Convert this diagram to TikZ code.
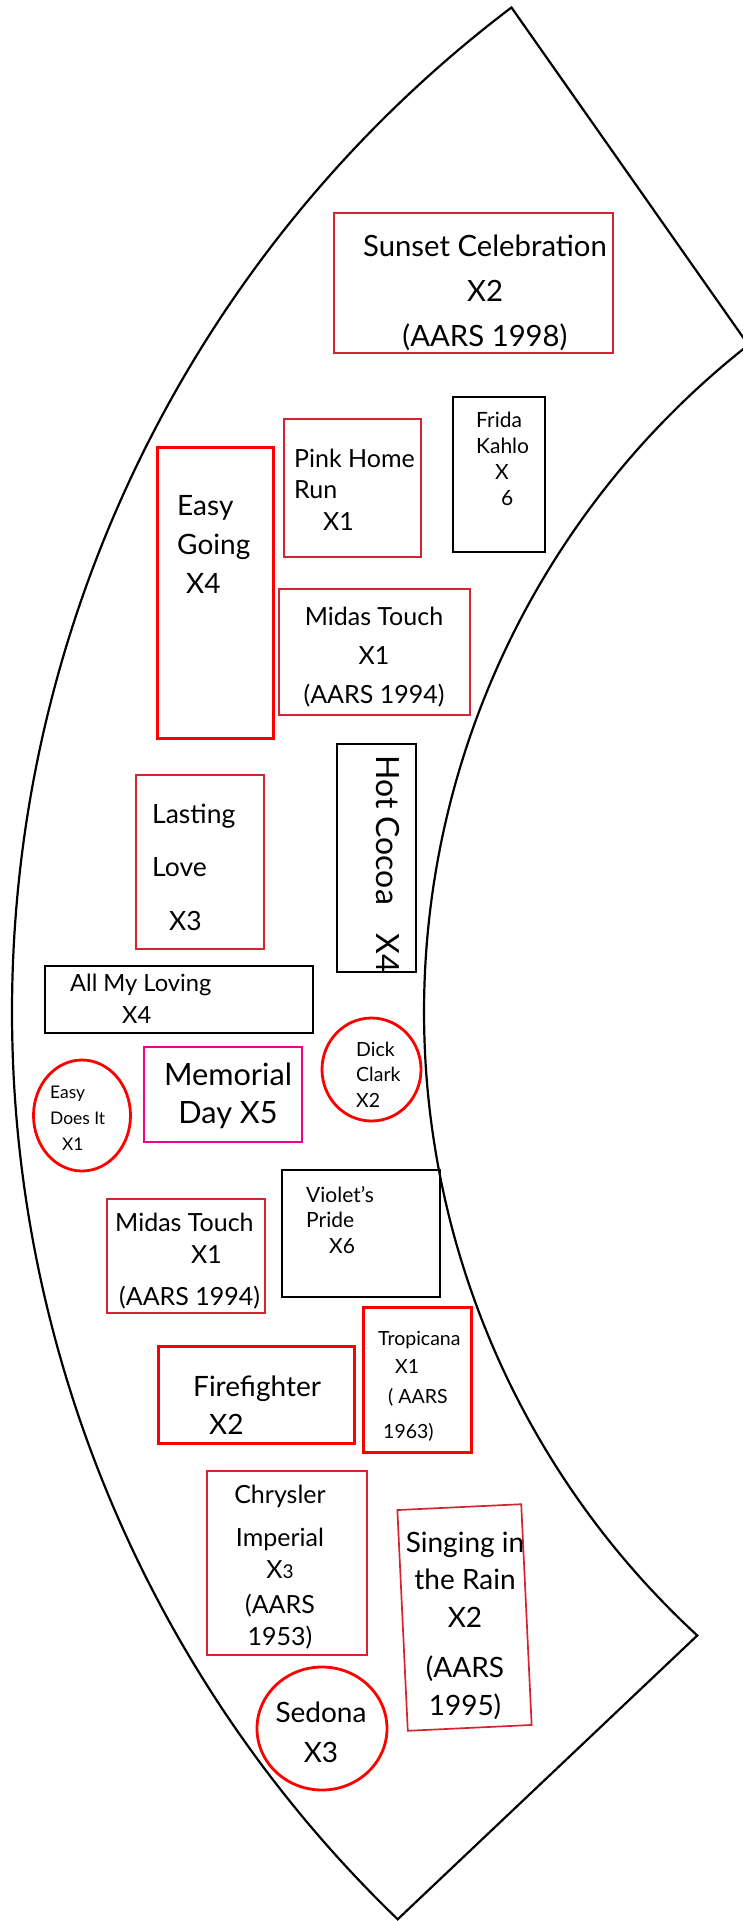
\documentclass[tikz,border=0pt]{standalone}
\usepackage{fontspec}
\setmainfont{Lato}
\usepackage{tikz}
\usetikzlibrary{calc,shapes.geometric}
\definecolor{bedred}{RGB}{212,36,48}
\newcommand\fs[2]{\fontsize{#1}{#2}\selectfont}
\tikzset{
	bed/.style={draw=bedred, inner sep=0pt, line width=1.7pt},
	bedbold/.style={draw=red, inner sep=0pt, line width=3pt},
	bedblack/.style={draw=black, inner sep=0pt, line width=2.3pt},
	bedpink/.style={draw=magenta, inner sep=0pt, line width=2.7pt},
	roundbed/.style={ellipse, draw=red, inner sep=0pt, line width=2.8pt},
	tag/.style={inner sep=0pt, align=left, anchor=base west},
	tagc/.style={inner sep=0pt, align=center, anchor=base},
}
\begin{document}
\begin{tikzpicture}[x=1pt,y=-1pt]
		\useasboundingbox (0,0) rectangle (743,1921);
		\clip (0,0) rectangle (743,1921);
		\coordinate (c) at (1272,1012);
		
		% wedge of the ring
		\draw[line width=2.2pt] ($(c)+(232.87:1260)$) arc[start angle=232.87, end angle=133.94, radius=1260]
			-- ($(c)+(132.67:848)$) arc[start angle=132.67, end angle=231.87, radius=848] -- cycle;
		
		\foreach \n/\x/\y/\w/\h in {sunset/473.5/283/279/140, pink/352.5/488/137/138, midasa/374.5/652/191/126,
			lasting/200/862/128/174, midasb/186/1256/158/114, chrysler/287/1563/160/184}{
			\node[bed, minimum width=\w pt, minimum height=\h pt] (\n) at (\x,\y) {};
		}
		\foreach \n/\x/\y/\w/\h in {easygoing/215/592.5/116/291, tropicana/417/1379.5/108/145, fire/256/1394.5/196/97}{
			\node[bedbold, minimum width=\w pt, minimum height=\h pt] (\n) at (\x,\y) {};
		}
		\foreach \n/\x/\y/\w/\h in {frida/499/474.5/92/155, cocoa/376.5/858/79/228, allmy/179/999.5/268/67,
			violet/361/1233.5/158/127}{
			\node[bedblack, minimum width=\w pt, minimum height=\h pt] (\n) at (\x,\y) {};
		}
		\foreach \n/\x/\y/\w/\h in {easydoes/82/1115.5/97/111, dick/371.5/1069.5/99/103, sedona/322/1728.5/130/123}{
			\node[roundbed, minimum width=\w pt, minimum height=\h pt] (\n) at (\x,\y) {};
		}
		\node[bedpink, minimum width=158pt, minimum height=95pt] (memorial) at (223,1094.5) {};
		\node[bed, rotate=2.7, minimum width=124pt, minimum height=221pt] (singing) at (464.5,1617.5) {};
		
		% names (placed on the baseline of the last line)
		\node[tagc, font=\fs{29.3}{45}] (sunset-t) at (485,346) {Sunset Celebration\\X2\\(AARS 1998)};
		\node[tag, font=\fs{25}{31.5}] (pink-t) at (294,530) {Pink Home\\Run\\\hspace*{29pt}X1};
		\node[tag, font=\fs{28}{39}] (easygoing-t) at (177,593) {Easy\\Going\\\hspace*{9pt}X4};
		\node[tagc, font=\fs{25}{39}] (midasa-t) at (374,703) {Midas Touch\\X1\\(AARS 1994)};
		\node[tag, font=\fs{21}{25.7}] (frida-t) at (476,505) {Frida\\Kahlo\\\hspace*{19pt}X\\\hspace*{25pt}6};
		\node[inner sep=0pt, rotate=-90, anchor=base west, font=\fs{32}{32}] (cocoa-t) at (376,755) {Hot Cocoa\hspace{29pt}X4};
		\node[tag, font=\fs{26.5}{53.5}] (lasting-t) at (152,930) {Lasting\\Love\\\hspace*{17pt}X3};
		\node[tag, font=\fs{23.7}{32}] (allmy-t) at (70,1023) {All My Loving\\\hspace*{52pt}X4};
		\node[tagc, font=\fs{30.7}{38}] (memorial-t) at (228,1123) {Memorial\\Day X5};
		\node[tag, font=\fs{17.4}{26}] (easydoes-t) at (50,1150) {Easy\\Does It\\\hspace*{12pt}X1};
		\node[tag, font=\fs{19.5}{25.5}] (dick-t) at (356,1107) {Dick\\Clark\\X2};
		\node[tag, font=\fs{21}{25.5}] (violet-t) at (306,1253) {Violet's\\Pride\\\hspace*{23pt}X6};
		\node[tag, font=\fs{25}{32}] (midasb-t) at (115,1305) {Midas Touch\\\hspace*{76pt}X1\\[10pt]\hspace*{4pt}(AARS 1994)};
		\node[tag, font=\fs{19.5}{28}] (tropicana-t) at (378,1438) {Tropicana\\\hspace*{17pt}X1\\[2pt]\hspace*{10pt}( AARS\\[7pt]\hspace*{5pt}1963)};
		\node[tag, font=\fs{28}{38}] (fire-t) at (193,1434) {Firefighter\\\hspace*{16pt}X2};
		\node[tagc, font=\fs{25}{32}] (chrysler-t) at (280,1645) {Chrysler\\[11pt]Imperial\\X{\fs{19}{19}3}\\[3pt](AARS\\1953)};
		\node[tagc, font=\fs{28}{37.5}] (singing-t) at (465,1715) {Singing in\\the Rain\\X2\\[13pt](AARS\\1995)};
		\node[tagc, font=\fs{28}{40}] (sedona-t) at (321,1762) {Sedona\\X3};
	\end{tikzpicture}
\end{document}
